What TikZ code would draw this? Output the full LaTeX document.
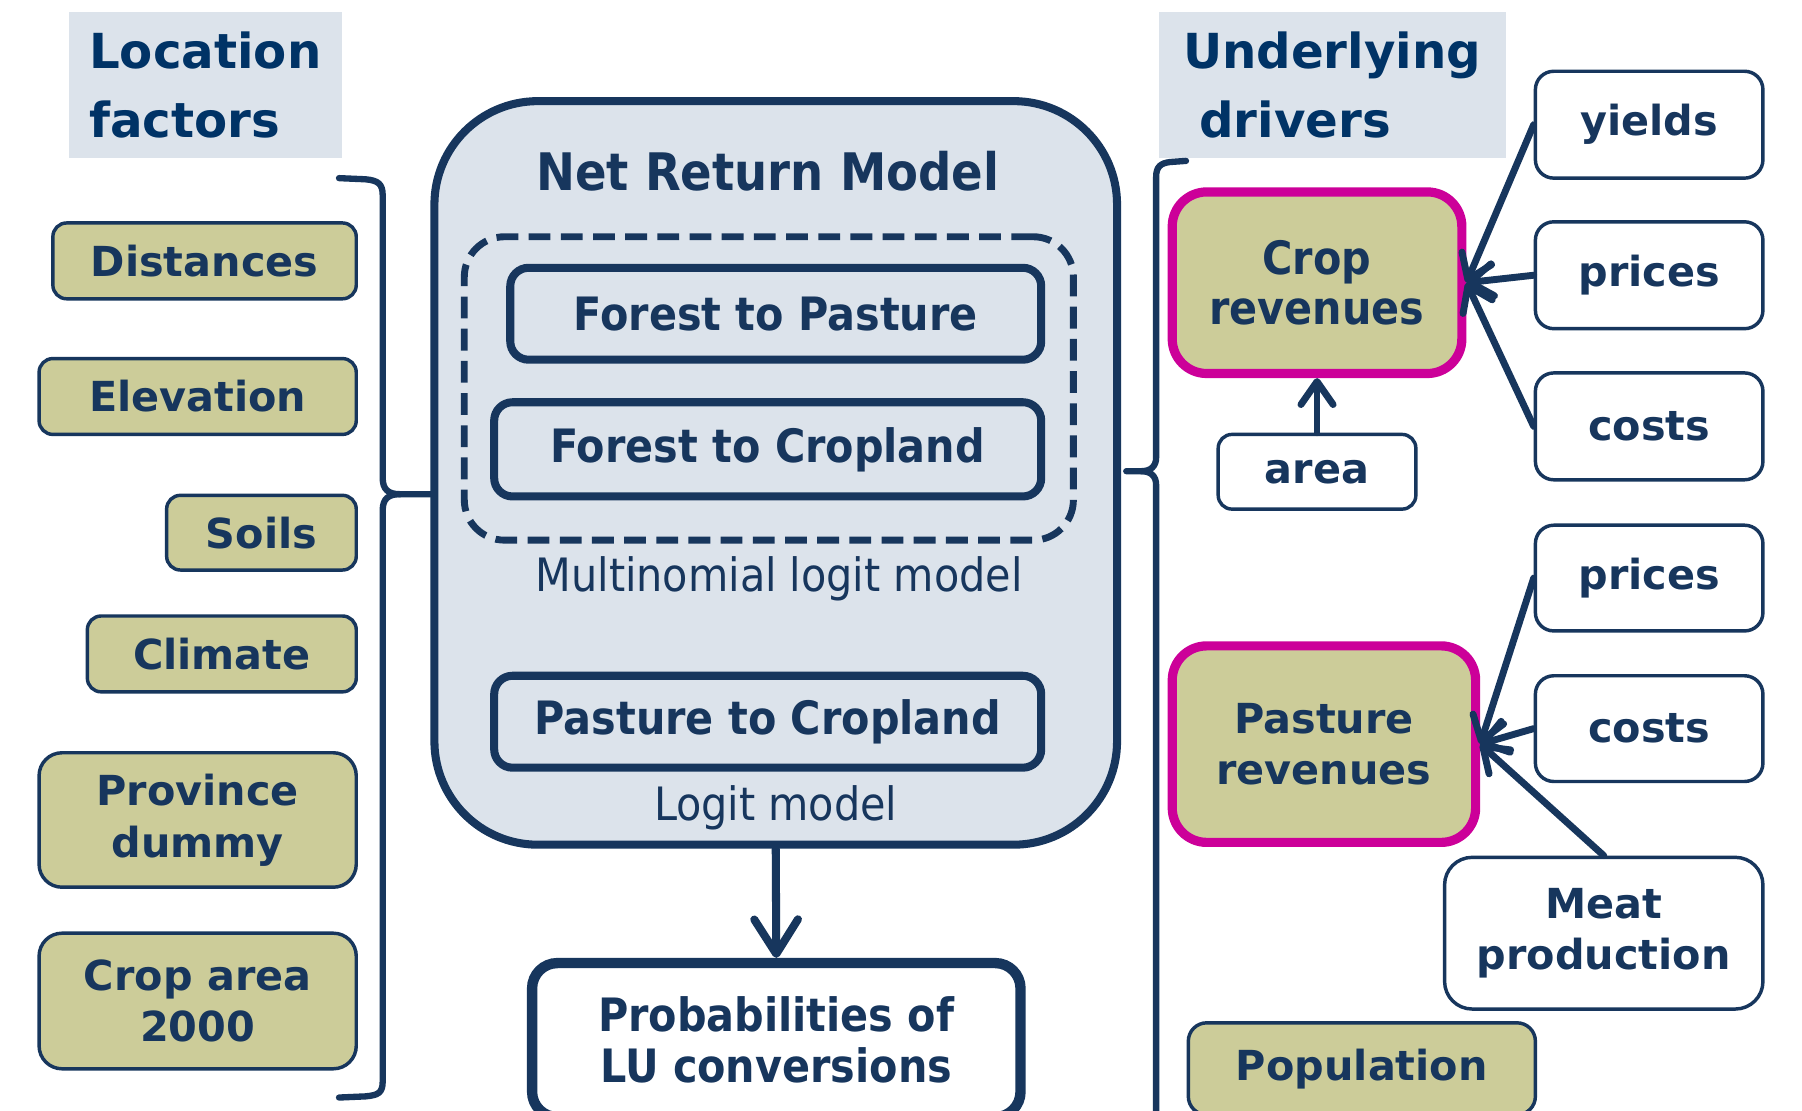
\documentclass[tikz,border=0pt]{standalone}
\usepackage{fontspec}
\setmainfont{DejaVu Sans}
\newfontfamily\condf{DejaVu Sans Condensed}
\usetikzlibrary{arrows.meta}
\definecolor{navy}{HTML}{17365D}
\definecolor{hdrblue}{HTML}{003366}
\definecolor{olivef}{HTML}{CCCC99}
\definecolor{panel}{HTML}{DCE3EB}
\definecolor{magentab}{HTML}{CC0099}
\tikzset{
  every node/.style={text=navy},
  hdr/.style={fill=panel, text=hdrblue, font=\bfseries\fontsize{42}{60}\selectfont, align=left, inner sep=0pt, anchor=north west},
  factor/.style={draw=navy, fill=olivef, line width=3pt, rounded corners=12pt, font=\bfseries\fontsize{36}{45}\selectfont, align=center, inner sep=0pt},
  driver/.style={draw=navy, fill=white, line width=3pt, rounded corners=16pt, font=\bfseries\fontsize{36}{44}\selectfont, align=center, inner sep=0pt},
  revbox/.style={draw=magentab, fill=olivef, line width=8pt, rounded corners=30pt, align=center, inner sep=0pt},
  convbox/.style={draw=navy, line width=7pt, rounded corners=16pt, font=\condf\bfseries\fontsize{40}{44}\selectfont, inner sep=0pt},
  modlabel/.style={font=\condf\fontsize{40}{44}\selectfont, inner sep=0pt},
  brace/.style={draw=navy, line width=5.5pt, line cap=round, line join=round},
  flow/.style={draw=navy, line width=6pt, line cap=round, -{Straight Barb[length=20pt,width=28pt,round]}},
  bigflow/.style={draw=navy, line width=7pt, line cap=round, -{Straight Barb[length=30pt,width=38pt,round]}},
}
\begin{document}
\begin{tikzpicture}[x=1pt,y=-1pt]
\useasboundingbox (0,0) rectangle (1568,966);
\fill[white] (0,0) rectangle (1568,966);
\clip (0,0) rectangle (1568,966);

% headers
\node[hdr, minimum width=237pt, minimum height=127pt] (locf) at (60,10) {Location\\factors};
\node[hdr, minimum width=302pt, minimum height=127pt] (undd) at (1008,10) {Underlying\\\hspace*{14pt}drivers};

% location factors
\node[factor, minimum width=264pt, minimum height=66pt] (dist) at (178,227) {Distances};
\node[factor, minimum width=276pt, minimum height=66pt] (elev) at (172,345) {Elevation};
\node[factor, minimum width=165pt, minimum height=65pt] (soil) at (227.5,463.5) {Soils};
\node[factor, minimum width=234pt, minimum height=66pt] (clim) at (193,569) {Climate};
\node[factor, minimum width=276pt, minimum height=117pt, rounded corners=20pt] (prov) at (172,713.5) {Province\\dummy};
\node[factor, minimum width=276pt, minimum height=118pt, rounded corners=20pt] (crar) at (172,871) {Crop area\\2000};

% left bracket
\draw[brace] (295,155) -- (318,156) .. controls (329,157) and (333,160) .. (333,170) -- (333,416) .. controls (333,426) and (338,430) .. (348,430) -- (378,430);
\draw[brace] (348,430) .. controls (338,430) and (333,434) .. (333,444) -- (333,941) .. controls (333,951) and (329,953) .. (318,954) -- (295,955);

% central model
\node[draw=navy, fill=panel, line width=7pt, rounded corners=90pt, minimum width=594pt, minimum height=647pt, inner sep=0pt] (nrm) at (675,411.5) {};
\node[font=\condf\bfseries\fontsize{45}{50}\selectfont, inner sep=0pt] (nrmt) at (668,149) {Net Return Model};
\node[draw=navy, line width=6pt, dash pattern=on 19pt off 9pt, rounded corners=35pt, minimum width=530pt, minimum height=264pt, inner sep=0pt] (mnl) at (669,338) {};
\node[convbox, minimum width=462pt, minimum height=80pt] (ftp) at (675,273) {Forest to Pasture};
\node[convbox, minimum width=476pt, minimum height=82pt] (ftc) at (668,391) {Forest to Cropland};
\node[modlabel] (mnlt) at (678,504) {Multinomial logit model};
\node[convbox, minimum width=476pt, minimum height=80pt] (ptc) at (668,628) {Pasture to Cropland};
\node[modlabel] (lgt) at (675,703) {Logit model};

% output
\node[draw=navy, fill=white, line width=9pt, rounded corners=22pt, minimum width=425pt, minimum height=134pt, font=\condf\bfseries\fontsize{40}{44}\selectfont, align=center, inner sep=0pt] (prob) at (675.5,905) {Probabilities of\\LU conversions};
\draw[bigflow] (nrm.south) -- (prob.north);

% right bracket
\draw[brace] (1032,140) -- (1018,141) .. controls (1010,142) and (1006,145) .. (1006,154) -- (1006,398) .. controls (1006,406) and (1001,410) .. (993,410) -- (980,410);
\draw[brace] (993,410) .. controls (1001,410) and (1006,414) .. (1006,422) -- (1006,990);

% crop revenues
\node[revbox, minimum width=252pt, minimum height=158pt, font=\condf\bfseries\fontsize{40}{43}\selectfont] (crop) at (1146,246) {Crop\\revenues};
\node[driver, minimum width=198pt, minimum height=93pt] (yld) at (1435,108.5) {yields};
\node[driver, minimum width=198pt, minimum height=93pt] (pr1) at (1435,239.5) {prices};
\node[driver, minimum width=198pt, minimum height=93pt] (co1) at (1435,371) {costs};
\node[driver, minimum width=172pt, minimum height=65pt, rounded corners=12pt] (area) at (1146,410.5) {area};
\draw[flow] (yld.west) -- (crop.east);
\draw[flow] (pr1.west) -- (crop.east);
\draw[flow] (co1.west) -- (crop.east);
\draw[flow] (area.north) -- (crop.south);

% pasture revenues
\node[revbox, minimum width=264pt, minimum height=171pt, font=\bfseries\fontsize{36}{45}\selectfont] (past) at (1152,647.5) {Pasture\\revenues};
\node[driver, minimum width=198pt, minimum height=92pt] (pr2) at (1435,503) {prices};
\node[driver, minimum width=198pt, minimum height=92pt] (co2) at (1435,634) {costs};
\node[driver, minimum width=277pt, minimum height=132pt, rounded corners=24pt] (meat) at (1395.5,812) {Meat\\production};
\draw[flow] (pr2.west) -- (past.east);
\draw[flow] (co2.west) -- (past.east);
\draw[flow] (meat.north) -- (past.east);

% population
\node[factor, minimum width=302pt, minimum height=80pt, rounded corners=16pt] (popu) at (1185,930) {Population};
\end{tikzpicture}
\end{document}
